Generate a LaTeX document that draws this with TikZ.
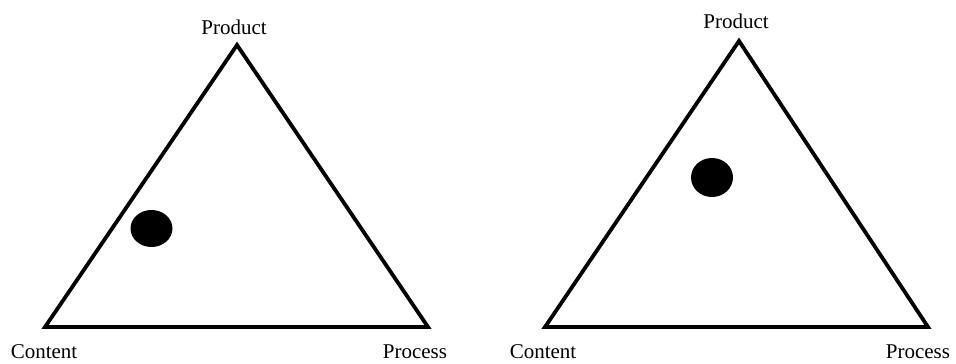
\documentclass[tikz,border=0pt]{standalone}
\usepackage{fontspec}
\setmainfont{Liberation Serif}
\usetikzlibrary{positioning}

\tikzset{
  corner/.style={font=\fontsize{21}{24}\selectfont,inner sep=0pt},
  side/.style={line width=3.8pt,line join=miter},
}

\begin{document}
\begin{tikzpicture}[x=1pt,y=-1pt]
    \useasboundingbox (0,0) rectangle (956,364);
    % left triangle
    \coordinate (lTop) at (237,45); \coordinate (lLeft) at (45,327); \coordinate (lRight) at (428,327);
    \draw[side] (lTop)--(lLeft)--(lRight)--cycle;
    \node[corner] (lProduct) at (234,27) {Product};
    \node[corner] (lContent) at (44,352) {Content};
    \node[corner] (lProcess) at (415,352) {Process};
    \fill (151.5,228.5) ellipse (21 and 18.5);
    % right triangle
    \coordinate (rTop) at (739,41); \coordinate (rLeft) at (545,327); \coordinate (rRight) at (928,327);
    \draw[side] (rTop)--(rLeft)--(rRight)--cycle;
    \node[corner] (rProduct) at (736,21) {Product};
    \node[corner] (rContent) at (543,352) {Content};
    \node[corner] (rProcess) at (918,352) {Process};
    \fill (712,177.5) ellipse (21 and 19.5);
  \end{tikzpicture}
\end{document}
